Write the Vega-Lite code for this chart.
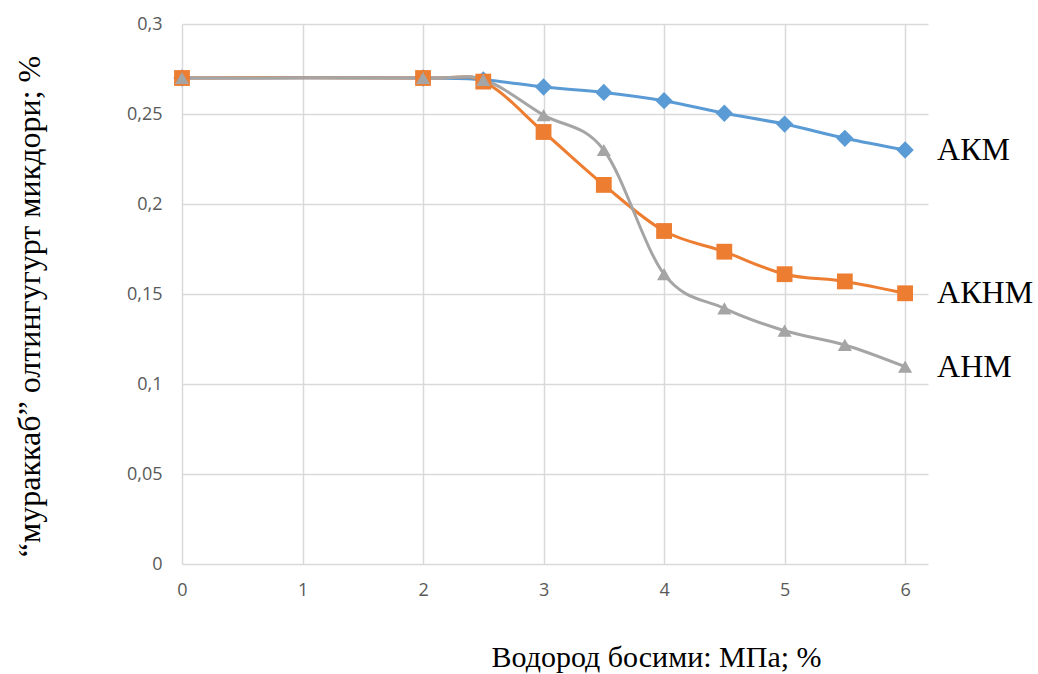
{
  "$schema": "https://vega.github.io/schema/vega-lite/v6.json",
  "width": 746,
  "height": 540,
  "autosize": {"type": "none"},
  "padding": {"left": 182, "top": 24, "right": 110, "bottom": 110},
  "background": "white",
  "config": {"view": {"stroke": null}},
  "data": {"values": [
    {"series": "АКМ", "x": 0, "y": 0.27},
    {"series": "АКМ", "x": 2, "y": 0.27},
    {"series": "АКМ", "x": 2.5, "y": 0.269},
    {"series": "АКМ", "x": 3, "y": 0.265},
    {"series": "АКМ", "x": 3.5, "y": 0.262},
    {"series": "АКМ", "x": 4, "y": 0.2574},
    {"series": "АКМ", "x": 4.5, "y": 0.2504},
    {"series": "АКМ", "x": 5, "y": 0.2444},
    {"series": "АКМ", "x": 5.5, "y": 0.2365},
    {"series": "АКМ", "x": 6, "y": 0.23},
    {"series": "АКНМ", "x": 0, "y": 0.27},
    {"series": "АКНМ", "x": 2, "y": 0.27},
    {"series": "АКНМ", "x": 2.5, "y": 0.268},
    {"series": "АКНМ", "x": 3, "y": 0.24},
    {"series": "АКНМ", "x": 3.5, "y": 0.2106},
    {"series": "АКНМ", "x": 4, "y": 0.185},
    {"series": "АКНМ", "x": 4.5, "y": 0.1735},
    {"series": "АКНМ", "x": 5, "y": 0.161},
    {"series": "АКНМ", "x": 5.5, "y": 0.157},
    {"series": "АКНМ", "x": 6, "y": 0.1504},
    {"series": "АНМ", "x": 0, "y": 0.27},
    {"series": "АНМ", "x": 2, "y": 0.27},
    {"series": "АНМ", "x": 2.5, "y": 0.269},
    {"series": "АНМ", "x": 3, "y": 0.2494},
    {"series": "АНМ", "x": 3.5, "y": 0.23},
    {"series": "АНМ", "x": 4, "y": 0.161},
    {"series": "АНМ", "x": 4.5, "y": 0.142},
    {"series": "АНМ", "x": 5, "y": 0.1296},
    {"series": "АНМ", "x": 5.5, "y": 0.1217},
    {"series": "АНМ", "x": 6, "y": 0.1096}
  ]},
  "encoding": {
    "x": {
      "field": "x", "type": "quantitative",
      "scale": {"domain": [0, 6.19], "nice": false, "zero": false},
      "axis": {
        "values": [0, 1, 2, 3, 4, 5, 6],
        "grid": true, "gridColor": "#d9d9d9", "gridWidth": 1.5,
        "domain": false, "ticks": false,
        "labelFont": "Open Sans", "labelFontSize": 18, "labelColor": "#595959",
        "labelPadding": 17, "labelFlush": false, "labelOverlap": false,
        "title": "Водород босими: МПа; %",
        "titleFont": "Liberation Serif", "titleFontSize": 30, "titleFontWeight": "normal",
        "titleColor": "#000000",
        "titleX": 474, "titleY": 102, "titleBaseline": "alphabetic", "titleAlign": "center", "titleAnchor": null
      }
    },
    "y": {
      "field": "y", "type": "quantitative",
      "scale": {"domain": [0, 0.3], "nice": false},
      "axis": {
        "values": [0, 0.05, 0.1, 0.15, 0.2, 0.25, 0.3],
        "labelExpr": "replace(format(datum.value, '~g'), '.', ',')",
        "grid": true, "gridColor": "#d9d9d9", "gridWidth": 1.5,
        "domain": false, "ticks": false,
        "labelFont": "Open Sans", "labelFontSize": 18, "labelColor": "#595959",
        "labelPadding": 20, "labelOverlap": false,
        "title": "“мураккаб” олтингугурт микдори; %",
        "titleFont": "Liberation Serif", "titleFontSize": 32, "titleFontWeight": "normal",
        "titleColor": "#000000",
        "titleX": -153, "titleY": 282, "titleAngle": -90, "titleBaseline": "middle", "titleAlign": "center", "titleAnchor": null
      }
    },
    "color": {
      "field": "series", "type": "nominal",
      "scale": {"domain": ["АКМ", "АКНМ", "АНМ"], "range": ["#5B9BD5", "#ED7D31", "#A5A5A5"]},
      "legend": null
    }
  },
  "layer": [
    {
      "mark": {"type": "line", "interpolate": "cardinal", "strokeWidth": 3},
      "encoding": {"detail": {"field": "series"}}
    },
    {
      "mark": {"type": "point", "filled": true, "opacity": 1},
      "encoding": {
        "shape": {
          "field": "series", "type": "nominal",
          "scale": {"domain": ["АКМ", "АКНМ", "АНМ"], "range": ["diamond", "square", "triangle-up"]},
          "legend": null
        },
        "size": {
          "field": "series", "type": "nominal",
          "scale": {"domain": ["АКМ", "АКНМ", "АНМ"], "range": [300, 200, 340]},
          "legend": null
        }
      }
    },
    {
      "transform": [{"filter": "datum.x == 6"}],
      "mark": {"type": "text", "align": "left", "baseline": "middle", "dx": 32, "font": "Liberation Serif", "fontSize": 32, "color": "#000000"},
      "encoding": {
        "text": {"field": "series"},
        "color": {"value": "#000000"}
      }
    }
  ]
}
